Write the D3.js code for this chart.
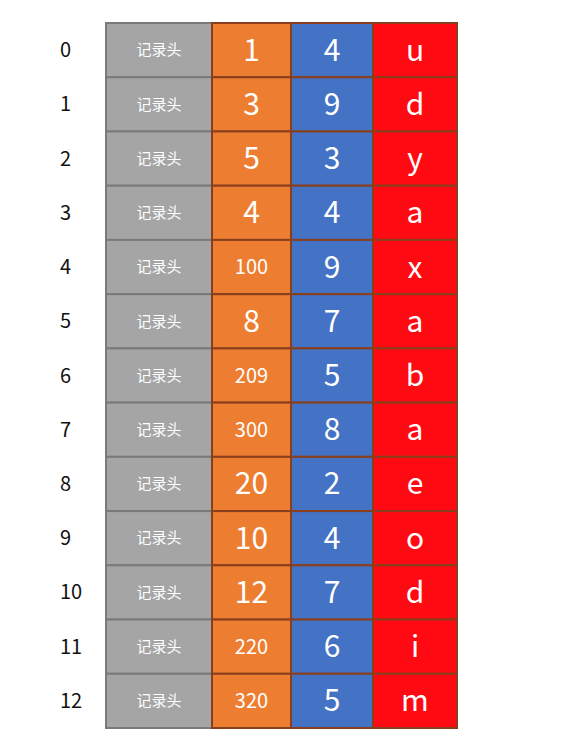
<!DOCTYPE html>
<html><head><meta charset="utf-8">
<script src="https://cdn.jsdelivr.net/npm/d3@7"></script>
<style>body{margin:0;background:#fff}text{font-family:"Noto Sans CJK SC","Noto Sans",sans-serif}</style>
</head><body>
<script>
// data
var rowIndex = d3.range(13);
var headLabel = "记录头";
var colA = ["1","3","5","4","100","8","209","300","20","10","12","220","320"];
var colB = ["4","9","3","4","9","7","5","8","2","4","7","6","5"];
var colC = ["u","d","y","a","x","a","b","a","e","o","d","i","m"];

var columns = [
  {key: "head", values: rowIndex.map(function() { return headLabel; }), fill: "#a5a5a5", stroke: "#7a7a7a"},
  {key: "a", values: colA, fill: "#ed7d31", stroke: "#8a3f1c"},
  {key: "b", values: colB, fill: "#4472c4", stroke: "#8a3f1c"},
  {key: "c", values: colC, fill: "#ff0a12", stroke: "#8a3f1c"}
];
var edges = [106, 212, 291, 373, 457];

var svg = d3.select("body").append("svg").attr("width", 568).attr("height", 750);

var y = d3.scaleBand().domain(rowIndex).range([23, 728]);

svg.selectAll(".idx").data(rowIndex).enter().append("text")
  .attr("x", 60).attr("y", function(d) { return y(d) + y.bandwidth() / 2; })
  .attr("dy", "0.35em").attr("font-size", 20).attr("fill", "#111")
  .text(function(d) { return d; });

columns.forEach(function(col, ci) {
  var x0 = edges[ci], w = edges[ci + 1] - edges[ci];
  var g = svg.append("g");
  g.selectAll("rect").data(col.values).enter().append("rect")
    .attr("x", x0).attr("y", function(d, i) { return y(i); })
    .attr("width", w).attr("height", y.bandwidth())
    .attr("fill", col.fill).attr("stroke", col.stroke).attr("stroke-width", 2);
  g.selectAll("text").data(col.values).enter().append("text")
    .attr("x", x0 + w / 2).attr("y", function(d, i) { return y(i) + y.bandwidth() / 2; })
    .attr("dy", "0.35em").attr("text-anchor", "middle").attr("fill", "#fff")
    .attr("font-size", function(d) { return col.key === "head" ? 15 : (d.length >= 3 ? 20 : 30); })
    .text(function(d) { return d; });
});
</script>
</body></html>
